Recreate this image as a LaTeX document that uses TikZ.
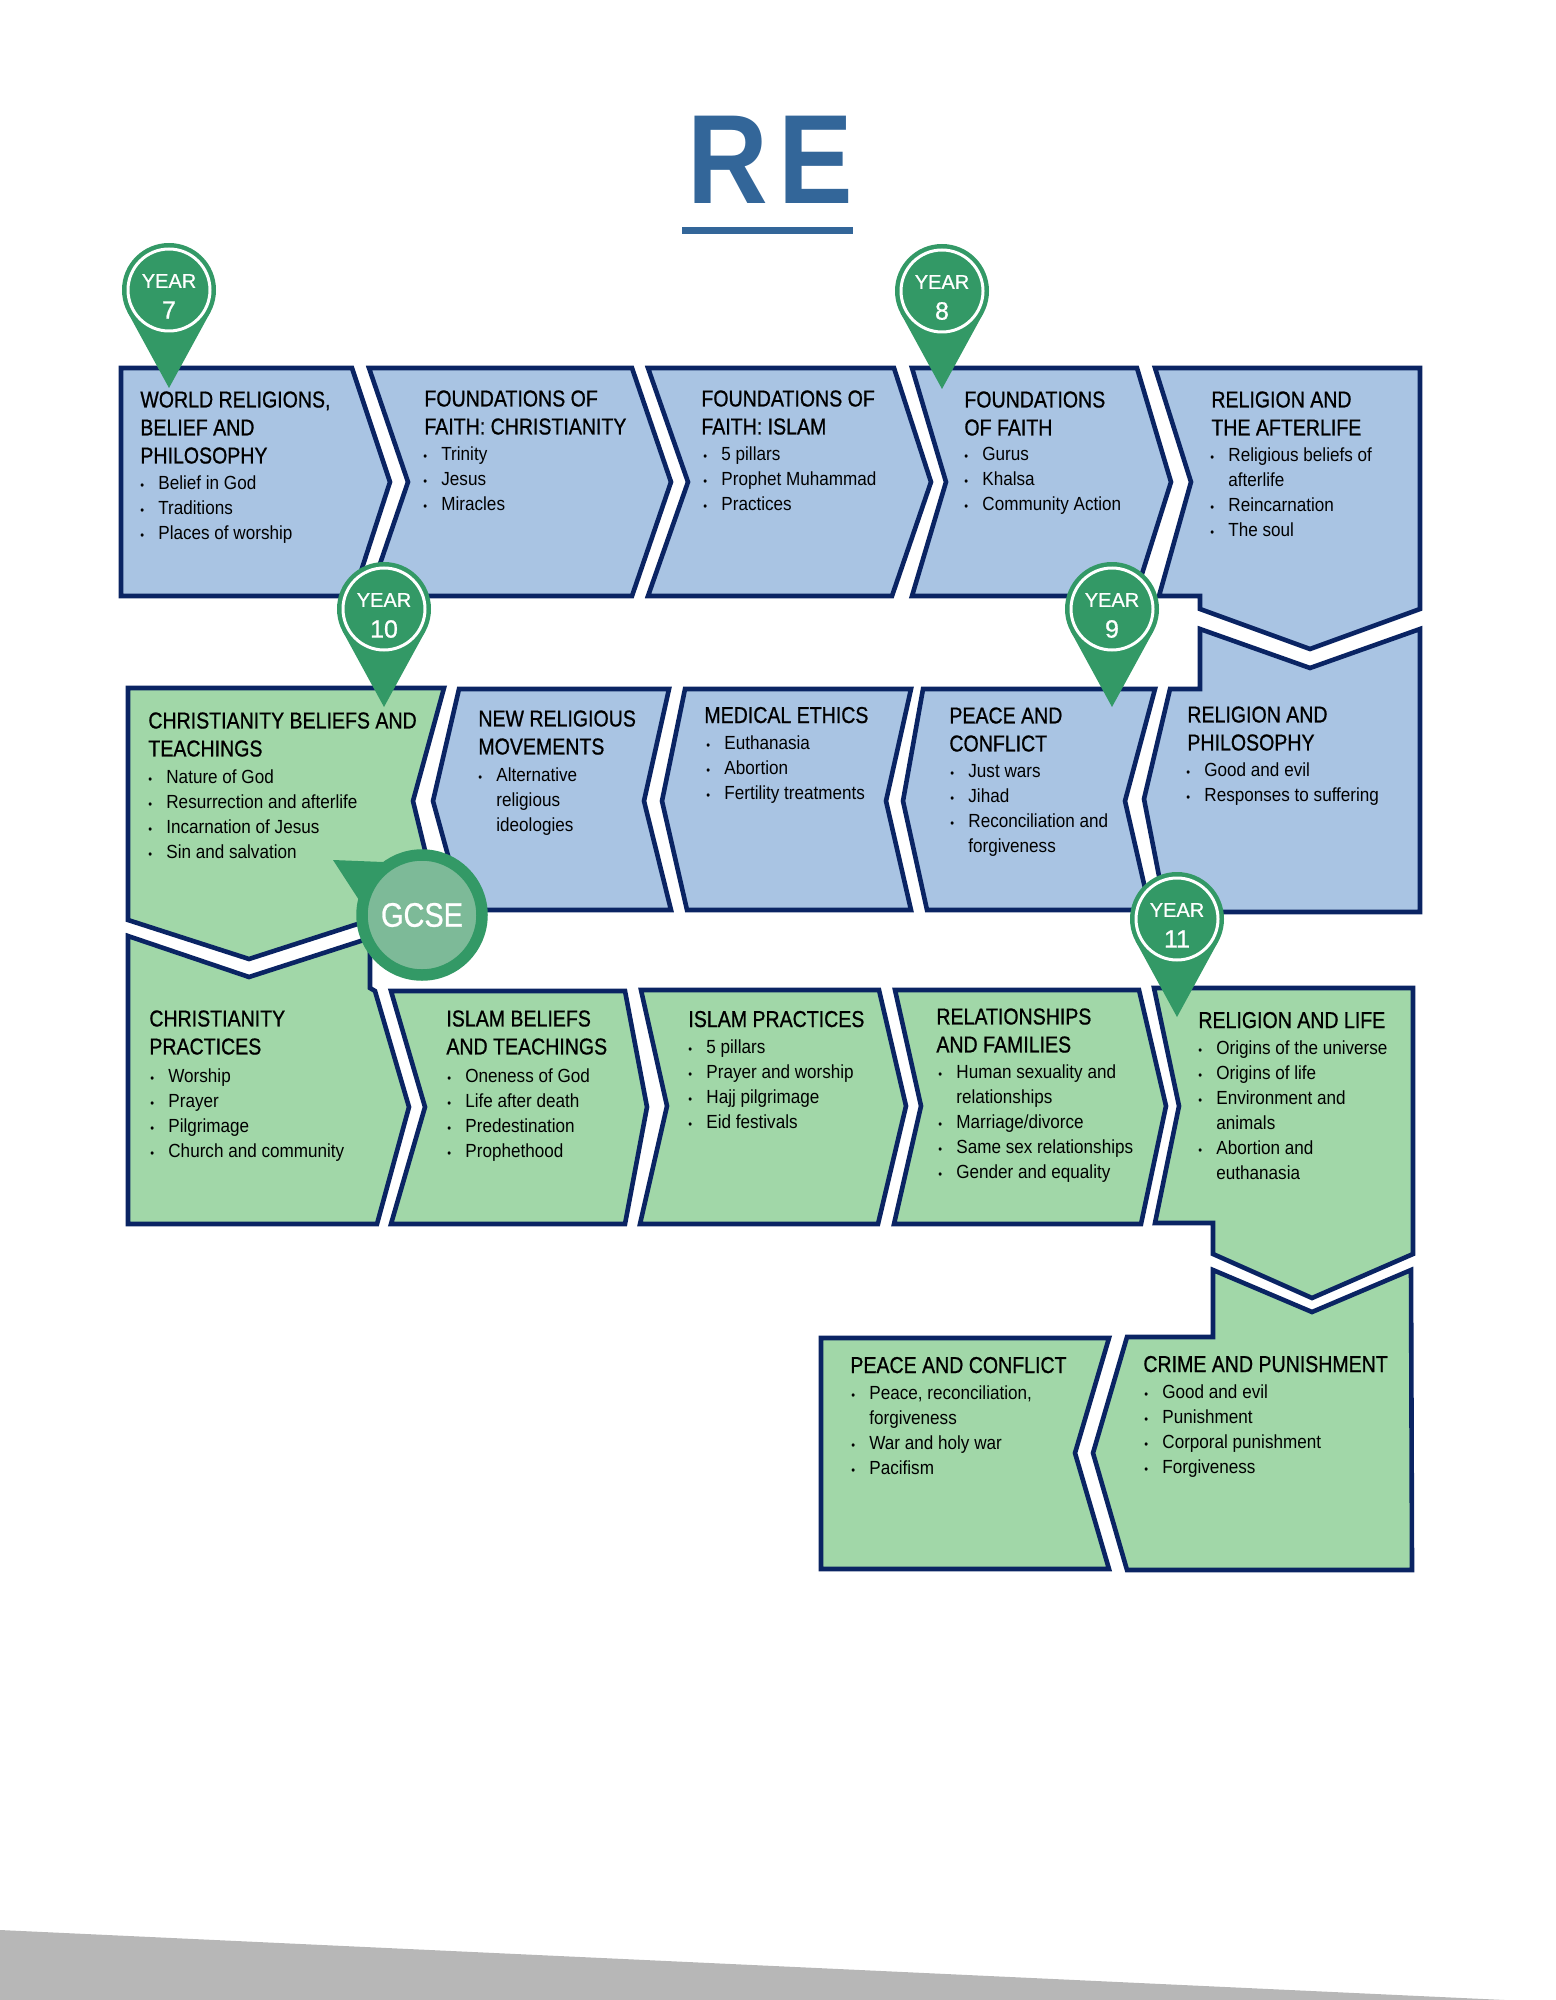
\documentclass[tikz,border=0pt]{standalone}
\usepackage{fontspec}
\setmainfont{Liberation Sans}
\newfontfamily\headfont[FakeStretch=0.85,FakeBold=0.8]{Liberation Sans}
\newfontfamily\listfont[FakeStretch=0.9]{Liberation Sans}
\newfontfamily\pinfont[FakeBold=0.8]{Liberation Sans}
\newfontfamily\titlefont[FakeStretch=0.88,LetterSpace=8]{Liberation Sans Bold}

\definecolor{boxline}{HTML}{0A2463}
\definecolor{boxblue}{HTML}{A9C4E3}
\definecolor{boxgreen}{HTML}{A1D7A8}
\definecolor{pingreen}{HTML}{339966}
\definecolor{gcsegreen}{HTML}{7DBA98}
\definecolor{titleblue}{HTML}{336699}
\definecolor{bandgrey}{HTML}{B7B7B7}

\newcommand{\bul}{\makebox[9pt][l]{\fontsize{6}{6}\selectfont •}}
\newcommand{\cont}{\hspace*{9pt}}

\tikzset{
    bluebox/.style={draw=boxline,fill=boxblue,line width=2.3pt},
    greenbox/.style={draw=boxline,fill=boxgreen,line width=2.3pt},
    headtext/.style={anchor=north west,inner sep=0pt,yshift=8.5pt,align=left,
        font=\fontsize{11.5}{14}\selectfont\headfont,execute at begin node=\strut},
    listtext/.style={anchor=north west,inner sep=0pt,yshift=7.5pt,align=left,
        font=\fontsize{9.5}{12.5}\selectfont\listfont,execute at begin node=\strut},
    pinring/.style={circle,draw=white,line width=1.5pt,fill=pingreen,minimum size=41pt,inner sep=0pt},
    pinword/.style={text=white,inner sep=0pt,font=\fontsize{10}{12}\selectfont\pinfont},
    pinnum/.style={text=white,inner sep=0pt,font=\fontsize{12.5}{14}\selectfont\pinfont},
}

\begin{document}
\begin{tikzpicture}[x=0.5pt,y=-0.5pt]
    \useasboundingbox (0,0) rectangle (1556,2000);

    \fill[bandgrey] (0,1930) -- (1505,2000) -- (0,2000) -- cycle;

    \node[anchor=base,inner sep=0pt,text=titleblue,font=\fontsize{63.5}{70}\selectfont\titlefont] (title) at (770,204) {RE};
    \fill[titleblue] (682,227) rectangle (853,234);

    % year 7 and 8 row
    \draw[bluebox] (121,368) -- (352,368) -- (390,482) -- (353,596) -- (121,596) -- cycle;
    \node[headtext] (worldhead) at (140,408) {WORLD RELIGIONS,\\BELIEF AND\\PHILOSOPHY};
    \node[listtext] (worldlist) at (140,490) {\bul Belief in God\\\bul Traditions\\\bul Places of worship};

    \draw[bluebox] (369,368) -- (632,368) -- (671,482) -- (632,596) -- (369,596) -- (408,482) -- cycle;
    \node[headtext] (chrishead) at (424,407) {FOUNDATIONS OF\\FAITH: CHRISTIANITY};
    \node[listtext] (chrislist) at (423,461) {\bul Trinity\\\bul Jesus\\\bul Miracles};

    \draw[bluebox] (648,368) -- (894,368) -- (931,482) -- (892,596) -- (648,596) -- (688,482) -- cycle;
    \node[headtext] (islamhead) at (701,407) {FOUNDATIONS OF\\FAITH: ISLAM};
    \node[listtext] (islamlist) at (703,461) {\bul 5 pillars\\\bul Prophet Muhammad\\\bul Practices};

    \draw[bluebox] (912,368) -- (1137,368) -- (1171,482) -- (1135,596) -- (912,596) -- (946,482) -- cycle;
    \node[headtext] (faithhead) at (964,408) {FOUNDATIONS\\OF FAITH};
    \node[listtext] (faithlist) at (964,462) {\bul Gurus\\\bul Khalsa\\\bul Community Action};

    \draw[bluebox] (1155,368) -- (1420,368) -- (1420,609) -- (1310,649) -- (1200,609) -- (1200,596) -- (1159,596) -- (1191,482) -- cycle;
    \node[headtext] (afterhead) at (1211,408) {RELIGION AND\\THE AFTERLIFE};
    \node[listtext] (afterlist) at (1210,462) {\bul Religious beliefs of\\\cont afterlife\\\bul Reincarnation\\\bul The soul};

    % year 9 and 10 row
    \draw[bluebox] (1200,629) -- (1310,668) -- (1420,629) -- (1420,912) -- (1166,912) -- (1144,799) -- (1170,689) -- (1200,689) -- cycle;
    \node[headtext] (philohead) at (1187,723) {RELIGION AND\\PHILOSOPHY};
    \node[listtext] (philolist) at (1186,777) {\bul Good and evil\\\bul Responses to suffering};

    \draw[bluebox] (923,689) -- (1155,689) -- (1125,801) -- (1150,910) -- (927,910) -- (903,801) -- cycle;
    \node[headtext] (peacehead) at (949,724) {PEACE AND\\CONFLICT};
    \node[listtext] (peacelist) at (950,779) {\bul Just wars\\\bul Jihad\\\bul Reconciliation and\\\cont forgiveness};

    \draw[bluebox] (685,689) -- (911,689) -- (886,801) -- (911,910) -- (687,910) -- (662,801) -- cycle;
    \node[headtext] (medhead) at (704,720) {MEDICAL ETHICS};
    \node[listtext] (medlist) at (706,750) {\bul Euthanasia\\\bul Abortion\\\bul Fertility treatments};

    \draw[bluebox] (459,689) -- (669,689) -- (644,801) -- (671,910) -- (463,910) -- (433,801) -- cycle;
    \node[headtext] (newhead) at (478,727) {NEW RELIGIOUS\\MOVEMENTS};
    \node[listtext] (newlist) at (478,782) {\bul Alternative\\\cont religious\\\cont ideologies};

    \draw[greenbox] (128,688) -- (444,688) -- (413,801) -- (440,912) -- (370,912) -- (370,920) -- (249,959) -- (128,920) -- cycle;
    \node[headtext] (beliefhead) at (148,729) {CHRISTIANITY BELIEFS AND\\TEACHINGS};
    \node[listtext] (belieflist) at (148,784) {\bul Nature of God\\\bul Resurrection and afterlife\\\bul Incarnation of Jesus\\\bul Sin and salvation};

    % year 10 and 11 row
    \draw[greenbox] (128,936) -- (249,977) -- (370,938) -- (370,988) -- (375,991) -- (409,1107) -- (377,1224) -- (128,1224) -- cycle;
    \node[headtext] (practhead) at (149,1027) {CHRISTIANITY\\PRACTICES};
    \node[listtext] (practlist) at (150,1083) {\bul Worship\\\bul Prayer\\\bul Pilgrimage\\\bul Church and community};

    \draw[greenbox] (391,991) -- (625,991) -- (647,1107) -- (625,1224) -- (391,1224) -- (425,1107) -- cycle;
    \node[headtext] (ibelhead) at (446,1027) {ISLAM BELIEFS\\AND TEACHINGS};
    \node[listtext] (ibellist) at (447,1083) {\bul Oneness of God\\\bul Life after death\\\bul Predestination\\\bul Prophethood};

    \draw[greenbox] (641,990) -- (879,990) -- (906,1106) -- (878,1224) -- (640,1224) -- (667,1106) -- cycle;
    \node[headtext] (iprachead) at (688,1024) {ISLAM PRACTICES};
    \node[listtext] (ipraclist) at (688,1054) {\bul 5 pillars\\\bul Prayer and worship\\\bul Hajj pilgrimage\\\bul Eid festivals};

    \draw[greenbox] (895,990) -- (1139,990) -- (1166,1106) -- (1141,1224) -- (894,1224) -- (921,1106) -- cycle;
    \node[headtext] (famhead) at (936,1025) {RELATIONSHIPS\\AND FAMILIES};
    \node[listtext] (famlist) at (938,1079) {\bul Human sexuality and\\\cont relationships\\\bul Marriage/divorce\\\bul Same sex relationships\\\bul Gender and equality};

    \draw[greenbox] (1154,988) -- (1413,988) -- (1413,1254) -- (1312,1298) -- (1213,1254) -- (1213,1223) -- (1155,1223) -- (1179,1106) -- cycle;
    \node[headtext] (lifehead) at (1198,1025) {RELIGION AND LIFE};
    \node[listtext] (lifelist) at (1198,1055) {\bul Origins of the universe\\\bul Origins of life\\\bul Environment and\\\cont animals\\\bul Abortion and\\\cont euthanasia};

    \draw[greenbox] (1213,1270) -- (1312,1312) -- (1411,1270) -- (1412,1570) -- (1127,1570) -- (1093,1453) -- (1127,1337) -- (1213,1337) -- cycle;
    \node[headtext] (crimehead) at (1143,1369) {CRIME AND PUNISHMENT};
    \node[listtext] (crimelist) at (1144,1399) {\bul Good and evil\\\bul Punishment\\\bul Corporal punishment\\\bul Forgiveness};

    \draw[greenbox] (821,1338) -- (1109,1338) -- (1075,1453) -- (1109,1569) -- (821,1569) -- cycle;
    \node[headtext] (warhead) at (850,1370) {PEACE AND CONFLICT};
    \node[listtext] (warlist) at (851,1400) {\bul Peace, reconciliation,\\\cont forgiveness\\\bul War and holy war\\\bul Pacifism};

    % pins
    \foreach \nm/\px/\py/\yr in {seven/169/290/7,eight/942/291/8,ten/384/609/10,nine/1112/609/9,eleven/1177/919/11} {
        \fill[pingreen] (\px,\py) circle [radius=47];
        \fill[pingreen] (\px-41.2,\py+22.5) -- (\px+41.2,\py+22.5) -- (\px,\py+98) -- cycle;
        \node[pinring] (ring\nm) at (\px,\py) {};
        \node[pinword] (word\nm) at (\px,\py-9) {YEAR};
        \node[pinnum] (num\nm) at (\px,\py+20) {\yr};
    }

    % gcse badge
    \fill[pingreen] (333,860) -- (383,862) -- (400,880) -- (359,900) -- cycle;
    \node[circle,draw=pingreen,fill=gcsegreen,line width=5.75pt,minimum size=60pt,inner sep=0pt,
        text=white,font=\fontsize{17}{20}\selectfont\headfont] (gcse) at (422,915) {GCSE};
\end{tikzpicture}
\end{document}
